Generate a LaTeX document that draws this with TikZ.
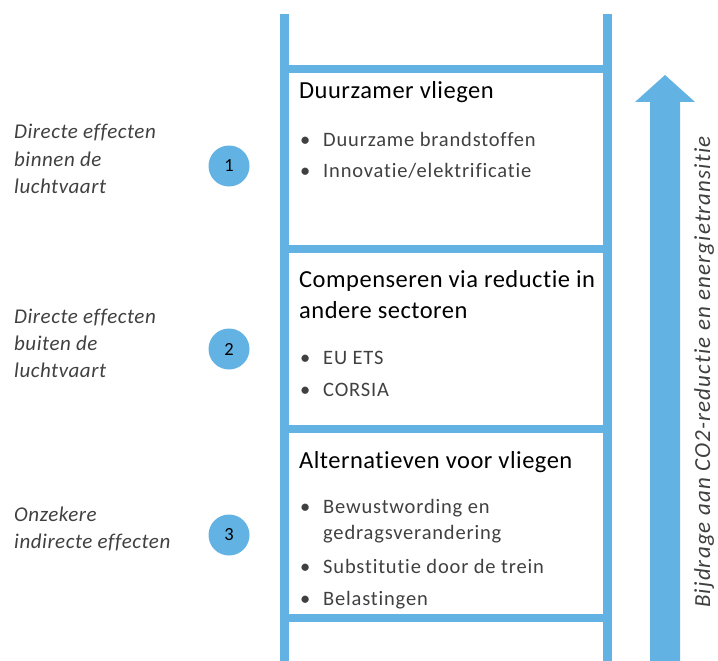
\documentclass[tikz,border=0pt]{standalone}
\usepackage{fontspec}
\setmainfont{Carlito}[Ligatures=NoCommon]
\newfontfamily\headfont{Carlito}[Ligatures=NoCommon,LetterSpace=2]
\newfontfamily\itemfont{Carlito}[Ligatures=NoCommon,LetterSpace=4]
\newfontfamily\effectfont{Carlito}[Ligatures=NoCommon,LetterSpace=2.5]
\newfontfamily\axisfont{Carlito}[Ligatures=NoCommon,LetterSpace=5]
\definecolor{ladder}{RGB}{98,178,227}
\definecolor{txtgray}{RGB}{64,64,64}
\begin{document}
\begin{tikzpicture}[x=1bp,y=-1bp,
  rail/.style={draw=ladder,line width=9bp},
  rung/.style={draw=ladder,line width=8bp},
  heading/.style={anchor=base west,inner sep=0pt,text=black,font=\headfont\fontsize{24.5bp}{29bp}\selectfont},
  item/.style={anchor=base west,inner sep=0pt,text=txtgray,font=\itemfont\fontsize{20.5bp}{25bp}\selectfont},
  effect/.style={anchor=base west,inner sep=0pt,text=txtgray,font=\effectfont\fontsize{21bp}{27bp}\selectfont\itshape},
  num/.style={circle,fill=ladder,minimum size=41bp,inner sep=0pt,text=black,font=\fontsize{18.5bp}{20bp}\selectfont},
  axislabel/.style={rotate=90,inner sep=0pt,text=txtgray,font=\axisfont\fontsize{23bp}{26bp}\selectfont\itshape}
]
\useasboundingbox (0,0) rectangle (718,661);

% ladder rails and rungs
\draw[rail] (284.5,14) -- (284.5,661);
\draw[rail] (607.5,14) -- (607.5,661);
\foreach \y in {69,249,429,617.5}
  \draw[rung] (280,\y) -- (612,\y);

% upward arrow
\fill[ladder] (650,661) -- (650,102) -- (635,102) -- (665,75) -- (695,102)
  -- (680,102) -- (680,661) -- cycle;
\node[axislabel] (axis) at (704,372) {Bijdrage aan CO2-reductie en energietransitie};

% bullet helper
\newcommand\bulletfor[1]{\node[item] at ([xshift=-23bp]#1.base west) {\textbullet};}

% step 1
\node[heading] (h1) at (299,99) {Duurzamer vliegen};
\node[item] (i1a) at (323,146) {Duurzame brandstoffen};
\node[item] (i1b) at (323,177) {Innovatie/elektrificatie};
\bulletfor{i1a}\bulletfor{i1b}

% step 2
\node[heading] (h2a) at (299,287) {Compenseren via reductie in};
\node[heading] (h2b) at (299,318) {andere sectoren};
\node[item] (i2a) at (323,364) {EU ETS};
\node[item] (i2b) at (323,396) {CORSIA};
\bulletfor{i2a}\bulletfor{i2b}

% step 3
\node[heading] (h3) at (299,468) {Alternatieven voor vliegen};
\node[item] (i3a) at (323,513) {Bewustwording en};
\node[item] (i3a2) at (323,539) {gedragsverandering};
\node[item] (i3b) at (323,573) {Substitutie door de trein};
\node[item] (i3c) at (323,605) {Belastingen};
\bulletfor{i3a}\bulletfor{i3b}\bulletfor{i3c}

% effect categories and numbers
\node[effect] (e1a) at (14,139) {Directe effecten};
\node[effect] (e1b) at (14,166) {binnen de};
\node[effect] (e1c) at (14,193) {luchtvaart};
\node[num] (n1) at (229,166) {1};

\node[effect] (e2a) at (14,323) {Directe effecten};
\node[effect] (e2b) at (14,350) {buiten de};
\node[effect] (e2c) at (14,377) {luchtvaart};
\node[num] (n2) at (229,349) {2};

\node[effect] (e3a) at (14,521) {Onzekere};
\node[effect] (e3b) at (14,548) {indirecte effecten};
\node[num] (n3) at (229,535) {3};
\end{tikzpicture}
\end{document}
